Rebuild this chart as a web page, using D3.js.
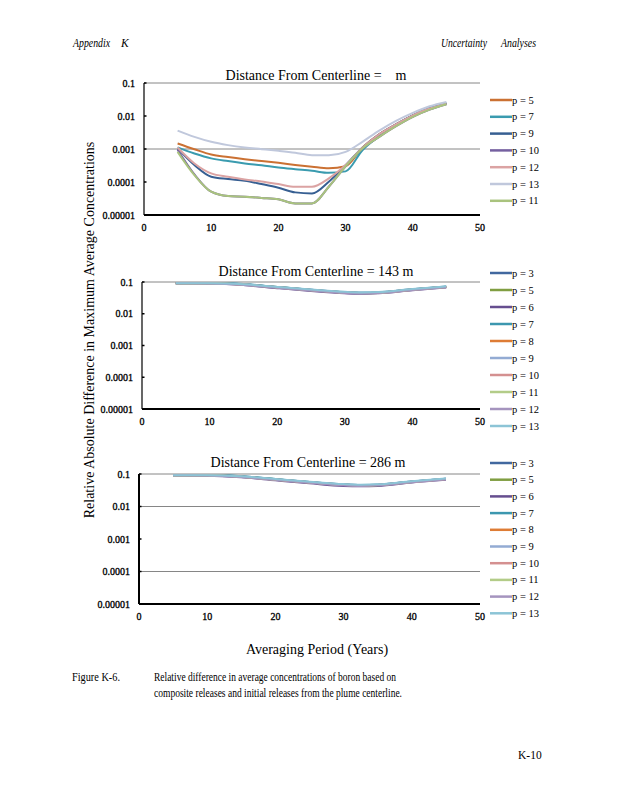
<!DOCTYPE html>
<html>
<head>
<meta charset="utf-8">
<script src="https://cdn.jsdelivr.net/npm/d3@7"></script>
<style>
  body { margin: 0; background: #fff; }
  svg { display: block; }
  text { font-family: "Liberation Serif", "Times New Roman", serif; fill: #000; white-space: pre; }
</style>
</head>
<body>
<svg id="page"></svg>
<script>
// tick values and labels shared by the three panels
const yTicks = [0.1, 0.01, 0.001, 0.0001, 0.00001];
const yTickLabels = ['0.1', '0.01', '0.001', '0.0001', '0.00001'];
const xTicks = [0, 10, 20, 30, 40, 50];

// panel 1: distance from centerline = (blank) m
const yearsNear = [5, 7.5, 10, 12.5, 15, 17.5, 20, 22.5, 25, 27.5, 30, 32.5, 35, 37.5, 40, 42.5, 45];
const nearLabels = ['p = 5', 'p = 7', 'p = 9', 'p = 10', 'p = 12', 'p = 13', 'p = 11'];
const nearP5  = [0.00147, 0.00098, 0.00068, 0.00057, 0.00049, 0.00043, 0.00038, 0.00033, 0.00029, 0.00026, 0.0003, 0.0011, 0.0028, 0.0056, 0.0105, 0.0168, 0.0237];
const nearP7  = [0.00112, 0.00073, 0.00052, 0.00043, 0.000365, 0.00032, 0.000276, 0.000245, 0.000219, 0.00019, 0.00021, 0.00092, 0.00245, 0.0055, 0.0105, 0.0176, 0.0248];
const nearP9  = [0.00104, 0.000325, 0.000144, 0.000123, 0.000109, 0.0000865, 0.000067, 0.0000485, 0.000045, 0.000102, 0.000325, 0.0011, 0.0028, 0.0056, 0.0105, 0.0168, 0.0237];
const nearP10 = [0.00095, 0.00017, 0.0000507, 0.0000375, 0.000036, 0.000033, 0.00003, 0.0000225, 0.0000225, 0.000072, 0.0003, 0.00104, 0.00233, 0.0049, 0.0094, 0.0156, 0.0226];
const nearP12 = [0.00111, 0.000365, 0.000182, 0.000144, 0.00012, 0.000104, 0.0000865, 0.000072, 0.000072, 0.000129, 0.000325, 0.0011, 0.0028, 0.0056, 0.0105, 0.0168, 0.0237];
const nearP13 = [0.0036, 0.00233, 0.00165, 0.00131, 0.00111, 0.00099, 0.00088, 0.00077, 0.00065, 0.00065, 0.00082, 0.00165, 0.0036, 0.0071, 0.0124, 0.0197, 0.0267];
const nearP11 = [0.00082, 0.000162, 0.0000507, 0.0000375, 0.000036, 0.000033, 0.00003, 0.0000225, 0.0000225, 0.000072, 0.0003, 0.00104, 0.00233, 0.0049, 0.0094, 0.0156, 0.0226];

// panels 2 and 3: 143 m and 286 m
const yearsFar = [5, 10, 15, 20, 25, 30, 32.5, 35, 40, 45];
const farLabels = ['p = 3', 'p = 5', 'p = 6', 'p = 7', 'p = 8', 'p = 9', 'p = 10', 'p = 11', 'p = 12', 'p = 13'];
const m143P3  = [0.092, 0.092, 0.085, 0.069, 0.057, 0.048, 0.046, 0.047, 0.059, 0.071];
const m143P5  = [0.092, 0.091, 0.084, 0.069, 0.056, 0.047, 0.045, 0.046, 0.058, 0.070];
const m143P6  = [0.091, 0.089, 0.080, 0.064, 0.052, 0.044, 0.042, 0.044, 0.055, 0.067];
const m143P7  = [0.092, 0.093, 0.086, 0.070, 0.057, 0.048, 0.046, 0.047, 0.059, 0.072];
const m143P8  = [0.092, 0.091, 0.083, 0.068, 0.056, 0.047, 0.045, 0.046, 0.058, 0.070];
const m143P9  = [0.092, 0.091, 0.083, 0.068, 0.056, 0.047, 0.045, 0.046, 0.058, 0.071];
const m143P10 = [0.092, 0.091, 0.083, 0.067, 0.055, 0.046, 0.045, 0.046, 0.057, 0.070];
const m143P11 = [0.092, 0.091, 0.083, 0.067, 0.055, 0.046, 0.044, 0.045, 0.057, 0.070];
const m143P12 = [0.091, 0.090, 0.081, 0.066, 0.054, 0.045, 0.043, 0.045, 0.056, 0.068];
const m143P13 = [0.092, 0.092, 0.085, 0.070, 0.058, 0.049, 0.047, 0.048, 0.060, 0.073];

const m286P3  = [0.092, 0.092, 0.085, 0.069, 0.057, 0.048, 0.046, 0.047, 0.059, 0.071];
const m286P5  = [0.092, 0.092, 0.084, 0.069, 0.056, 0.047, 0.045, 0.046, 0.058, 0.070];
const m286P6  = [0.091, 0.089, 0.079, 0.064, 0.052, 0.043, 0.042, 0.043, 0.055, 0.066];
const m286P7  = [0.092, 0.093, 0.086, 0.070, 0.057, 0.048, 0.046, 0.047, 0.059, 0.072];
const m286P8  = [0.092, 0.091, 0.083, 0.068, 0.056, 0.047, 0.045, 0.046, 0.058, 0.070];
const m286P9  = [0.092, 0.091, 0.083, 0.068, 0.056, 0.047, 0.045, 0.046, 0.058, 0.071];
const m286P10 = [0.092, 0.091, 0.083, 0.067, 0.055, 0.046, 0.045, 0.046, 0.057, 0.070];
const m286P11 = [0.092, 0.091, 0.083, 0.067, 0.055, 0.046, 0.044, 0.045, 0.057, 0.070];
const m286P12 = [0.091, 0.090, 0.081, 0.066, 0.054, 0.045, 0.043, 0.045, 0.056, 0.068];
const m286P13 = [0.092, 0.092, 0.085, 0.070, 0.058, 0.049, 0.047, 0.048, 0.060, 0.073];

const nearColors = ['#cb7133', '#3a9baf', '#375f92', '#7560a0', '#dba3a3', '#c0c8dc', '#a9c37e'];
const farColors = ['#41689f', '#809e42', '#664e8f', '#3c97af', '#de7c35', '#93abd3', '#d49090', '#b3cc88', '#a594be', '#8cc4d6'];

const svg = d3.select('#page').attr('width', 618).attr('height', 800);
svg.append('rect').attr('width', 618).attr('height', 800).attr('fill', '#fff');

function drawPanel(cfg) {
    const x = d3.scaleLinear().domain([0, 50]).range([cfg.left, 480]);
    const y = d3.scaleLog().domain([0.00001, 0.1]).range([cfg.bottom, cfg.top]);
    const g = svg.append('g');

    // gridlines (only some of them in the original)
    g.selectAll('.grid').data(cfg.grid).enter().append('line')
        .attr('x1', cfg.left).attr('x2', 480)
        .attr('y1', d => y(d)).attr('y2', d => y(d))
        .attr('stroke', '#868686').attr('stroke-width', 1);

    // left axis + inner tick marks
    g.append('line').attr('x1', cfg.left).attr('x2', cfg.left)
        .attr('y1', cfg.top).attr('y2', cfg.bottom)
        .attr('stroke', '#000').attr('stroke-width', cfg.axisW);
    g.selectAll('.tk').data(yTicks).enter().append('line')
        .attr('x1', cfg.left).attr('x2', cfg.left + 2.5)
        .attr('y1', d => y(d)).attr('y2', d => y(d))
        .attr('stroke', '#000').attr('stroke-width', 1.5);
    g.append('line').attr('x1', cfg.left).attr('x2', 480)
        .attr('y1', cfg.bottom).attr('y2', cfg.bottom)
        .attr('stroke', '#000').attr('stroke-width', 2);

    g.selectAll('.yl').data(yTicks).enter().append('text')
        .attr('x', cfg.left - 9).attr('y', d => y(d) + 3.5)
        .attr('text-anchor', 'end').attr('font-size', 10)
        .attr('stroke', '#000').attr('stroke-width', 0.3)
        .text((d, i) => yTickLabels[i]);
    g.selectAll('.xl').data(xTicks).enter().append('text')
        .attr('x', d => x(d)).attr('y', cfg.bottom + 16)
        .attr('text-anchor', 'middle').attr('font-size', 10)
        .attr('stroke', '#000').attr('stroke-width', 0.3)
        .text(d => d);

    g.append('text').attr('x', cfg.titleX).attr('y', cfg.titleY)
        .attr('text-anchor', 'middle').attr('font-size', 14).text(cfg.title);

    const line = d3.line().x(d => x(d[0])).y(d => y(d[1])).curve(d3.curveMonotoneX);
    cfg.series.forEach((vals, i) => {
        g.append('path').datum(cfg.years.map((t, j) => [t, vals[j]]))
            .attr('d', line).attr('fill', 'none')
            .attr('stroke', cfg.colors[i]).attr('stroke-width', 2);
    });

    // legend
    cfg.labels.forEach((lab, i) => {
        const ly = cfg.legTop + i * cfg.legStep;
        g.append('line').attr('x1', 490).attr('x2', 512).attr('y1', ly).attr('y2', ly)
            .attr('stroke', cfg.colors[i]).attr('stroke-width', 2.5);
        g.append('text').attr('x', 512).attr('y', ly + 3.5).attr('font-size', 10.5).text(lab);
    });
}

drawPanel({
    left: 144, top: 83, bottom: 215, axisW: 1.2, grid: [0.1, 0.001],
    title: 'Distance From Centerline =    m', titleX: 316, titleY: 80,
    years: yearsNear, series: [nearP5, nearP7, nearP9, nearP10, nearP12, nearP13, nearP11],
    labels: nearLabels, colors: nearColors, legTop: 100, legStep: 16.8
});
drawPanel({
    left: 142, top: 282, bottom: 409, axisW: 1.2, grid: [0.1],
    title: 'Distance From Centerline = 143 m', titleX: 316, titleY: 276,
    years: yearsFar, series: [m143P3, m143P5, m143P6, m143P7, m143P8, m143P9, m143P10, m143P11, m143P12, m143P13],
    labels: farLabels, colors: farColors, legTop: 273, legStep: 17
});
drawPanel({
    left: 139, top: 474, bottom: 604, axisW: 2, grid: [0.1, 0.01, 0.0001],
    title: 'Distance From Centerline = 286 m', titleX: 308, titleY: 467,
    years: yearsFar, series: [m286P3, m286P5, m286P6, m286P7, m286P8, m286P9, m286P10, m286P11, m286P12, m286P13],
    labels: farLabels, colors: farColors, legTop: 463, legStep: 16.7
});

// shared axis titles
svg.append('text').attr('transform', 'translate(94,330) rotate(-90)')
    .attr('text-anchor', 'middle').attr('font-size', 14)
    .text('Relative Absolute Difference in Maximum Average Concentrations');
svg.append('text').attr('x', 317).attr('y', 654).attr('text-anchor', 'middle')
    .attr('font-size', 14).text('Averaging Period (Years)');

// page header, caption, footer
svg.append('text').attr('x', 73).attr('y', 47).attr('font-size', 11.5).attr('font-style', 'italic')
    .attr('textLength', 37).attr('lengthAdjust', 'spacingAndGlyphs').text('Appendix');
svg.append('text').attr('x', 121).attr('y', 47).attr('font-size', 11.5).attr('font-style', 'italic').text('K');
svg.append('text').attr('x', 441).attr('y', 47).attr('font-size', 11.5).attr('font-style', 'italic')
    .attr('textLength', 46).attr('lengthAdjust', 'spacingAndGlyphs').text('Uncertainty');
svg.append('text').attr('x', 501).attr('y', 47).attr('font-size', 11.5).attr('font-style', 'italic')
    .attr('textLength', 35).attr('lengthAdjust', 'spacingAndGlyphs').text('Analyses');

svg.append('text').attr('x', 72).attr('y', 681).attr('font-size', 11.5)
    .attr('textLength', 48).attr('lengthAdjust', 'spacingAndGlyphs').text('Figure K-6.');
svg.append('text').attr('x', 154).attr('y', 681).attr('font-size', 11.5)
    .attr('textLength', 242).attr('lengthAdjust', 'spacingAndGlyphs')
    .text('Relative difference in average concentrations of boron based on');
svg.append('text').attr('x', 154).attr('y', 697).attr('font-size', 11.5)
    .attr('textLength', 248).attr('lengthAdjust', 'spacingAndGlyphs')
    .text('composite releases and initial releases from the plume centerline.');

svg.append('text').attr('x', 518).attr('y', 759).attr('font-size', 11.5).text('K-10');
</script>
</body>
</html>
